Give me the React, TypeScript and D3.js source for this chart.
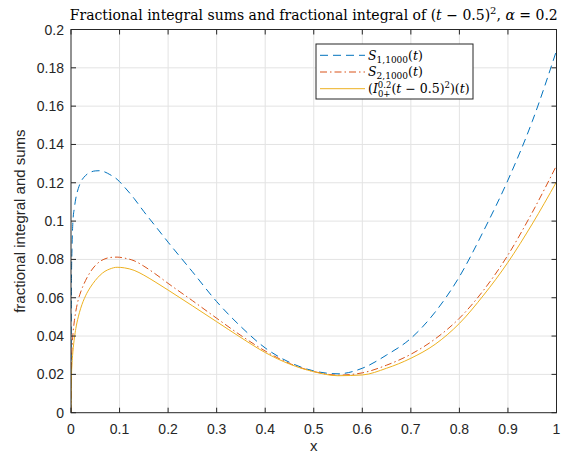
import * as d3 from "d3";

// sample points in t, shared by the three curves
const tValues = [0, 0.001, 0.002, 0.004, 0.007, 0.01, 0.015, 0.02, 0.03, 0.04, 0.05, 0.06, 0.07, 0.08, 0.095, 0.11, 0.13, 0.15, 0.175, 0.2, 0.25, 0.3, 0.35, 0.4, 0.45, 0.5, 0.55, 0.6, 0.65, 0.7, 0.75, 0.8, 0.85, 0.9, 0.95, 1];

// S_{1,1000}(t)
const sum1 = [0, 0.07, 0.085, 0.1, 0.107, 0.112, 0.117, 0.1203, 0.1238, 0.1255, 0.1262, 0.1263, 0.1256, 0.1243, 0.1218, 0.1178, 0.1118, 0.105, 0.097, 0.089, 0.0736, 0.058, 0.0449, 0.0338, 0.0263, 0.0218, 0.0203, 0.0232, 0.0301, 0.0388, 0.0525, 0.071, 0.095, 0.1214, 0.152, 0.189];

// S_{2,1000}(t)
const sum2 = [0, 0.026, 0.033, 0.041, 0.048, 0.053, 0.059, 0.063, 0.069, 0.0735, 0.0768, 0.079, 0.0803, 0.081, 0.0812, 0.0807, 0.0793, 0.0765, 0.0722, 0.0675, 0.0585, 0.0493, 0.0403, 0.0322, 0.0257, 0.0215, 0.0196, 0.0208, 0.0248, 0.0305, 0.0385, 0.0493, 0.064, 0.0823, 0.1045, 0.129];

// (I^0.2_{0+}(t-0.5)^2)(t)
const integral = [0, 0.019, 0.025, 0.032, 0.039, 0.044, 0.05, 0.0545, 0.061, 0.0655, 0.069, 0.0718, 0.0738, 0.075, 0.0759, 0.0756, 0.0743, 0.0718, 0.068, 0.064, 0.0558, 0.0475, 0.0392, 0.0314, 0.0254, 0.0214, 0.0193, 0.0197, 0.0232, 0.0284, 0.0357, 0.0466, 0.0614, 0.0785, 0.0985, 0.1205];

const xTicks = [0, 0.1, 0.2, 0.3, 0.4, 0.5, 0.6, 0.7, 0.8, 0.9, 1];
const xTickLabels = ["0", "0.1", "0.2", "0.3", "0.4", "0.5", "0.6", "0.7", "0.8", "0.9", "1"];
const yTicks = [0, 0.02, 0.04, 0.06, 0.08, 0.1, 0.12, 0.14, 0.16, 0.18, 0.2];
const yTickLabels = ["0", "0.02", "0.04", "0.06", "0.08", "0.1", "0.12", "0.14", "0.16", "0.18", "0.2"];

const W = 566;
const H = 459;
const margin = { top: 29.5, right: 9.5, bottom: 46.3, left: 71 };
const axisColor = "#262626";
const sans = "'Liberation Sans', Arial, Helvetica, sans-serif";
const serif = "'DejaVu Serif', 'Liberation Serif', serif";

export default function App() {
  const x = d3.scaleLinear().domain([0, 1]).range([margin.left, W - margin.right]);
  const y = d3.scaleLinear().domain([0, 0.2]).range([H - margin.bottom, margin.top]);

  const line = (vals: number[]) =>
    d3.line<number>()
      .x((_, i) => x(tValues[i]))
      .y((d) => y(d))
      .curve(d3.curveMonotoneX)(vals) || "";

  const x0 = x(0), x1 = x(1), y0 = y(0), y1 = y(0.2);
  const tick = 5;

  const legX = 316, legY = 44;

  return (
    <svg width={W} height={H} style={{ position: "absolute", left: 0, top: 0, background: "#fff" }}>
      <defs>
        <clipPath id="plot">
          <rect x={x0} y={y1} width={x1 - x0} height={y0 - y1} />
        </clipPath>
      </defs>
      <rect x={x0} y={y1} width={x1 - x0} height={y0 - y1} fill="#fff" />
      {/* grid */}
      <g stroke="#e3e3e3" strokeWidth={1}>
        {xTicks.slice(1, -1).map((t) => (
          <line key={"gx" + t} x1={x(t)} x2={x(t)} y1={y1} y2={y0} />
        ))}
        {yTicks.slice(1, -1).map((t) => (
          <line key={"gy" + t} x1={x0} x2={x1} y1={y(t)} y2={y(t)} />
        ))}
      </g>

      {/* curves */}
      <g clipPath="url(#plot)" fill="none" strokeWidth={1}>
        <path d={line(sum1)} stroke="#0072BD" strokeDasharray="8,5" />
        <path d={line(sum2)} stroke="#D95319" strokeDasharray="7,3,1.5,3" />
        <path d={line(integral)} stroke="#EDB120" />
      </g>

      {/* box and ticks */}
      <rect x={x0} y={y1} width={x1 - x0} height={y0 - y1} fill="none" stroke={axisColor} strokeWidth={1} />
      <g stroke={axisColor} strokeWidth={1}>
        {xTicks.map((t) => (
          <g key={"tx" + t}>
            <line x1={x(t)} x2={x(t)} y1={y0} y2={y0 - tick} />
            <line x1={x(t)} x2={x(t)} y1={y1} y2={y1 + tick} />
          </g>
        ))}
        {yTicks.map((t) => (
          <g key={"ty" + t}>
            <line x1={x0} x2={x0 + tick} y1={y(t)} y2={y(t)} />
            <line x1={x1} x2={x1 - tick} y1={y(t)} y2={y(t)} />
          </g>
        ))}
      </g>

      {/* tick labels */}
      <g fontFamily={sans} fontSize={14} fill={axisColor}>
        {xTicks.map((t, i) => (
          <text key={"lx" + t} x={x(t)} y={y0 + 21} textAnchor="middle">{xTickLabels[i]}</text>
        ))}
        {yTicks.map((t, i) => (
          <text key={"ly" + t} x={x0 - 7} y={y(t) + 5} textAnchor="end">{yTickLabels[i]}</text>
        ))}
      </g>

      {/* axis labels */}
      <text x={(x0 + x1) / 2} y={y0 + 38} textAnchor="middle" fontFamily={sans} fontSize={15} fill={axisColor}>x</text>
      <text transform={`translate(25, ${(y0 + y1) / 2}) rotate(-90)`} textAnchor="middle" fontFamily={sans} fontSize={15} fill={axisColor}>
        fractional integral and sums
      </text>

      {/* title */}
      <text x={(x0 + x1) / 2} y={20} textAnchor="middle" fontFamily={serif} fontSize={14} fill="#000">
        Fractional integral sums and fractional integral of (<tspan fontStyle="italic">t</tspan> − 0.5)
        <tspan fontSize={10} dy={-6}>2</tspan>
        <tspan dy={6}>, </tspan>
        <tspan fontStyle="italic">α</tspan> = 0.2
      </text>

      {/* legend */}
      <g>
        <rect x={legX} y={legY} width={157} height={55} fill="#fff" stroke={axisColor} strokeWidth={1} />
        <line x1={legX + 4} x2={legX + 49} y1={legY + 11.3} y2={legY + 11.3} stroke="#0072BD" strokeDasharray="8,5" />
        <line x1={legX + 4} x2={legX + 49} y1={legY + 28} y2={legY + 28} stroke="#D95319" strokeDasharray="7,3,1.5,3" />
        <line x1={legX + 4} x2={legX + 49} y1={legY + 44.7} y2={legY + 44.7} stroke="#EDB120" />
        <g fontFamily={serif} fontSize={12.5} fill="#000">
          <text x={legX + 52} y={legY + 15.5}>
            <tspan fontStyle="italic">S</tspan>
            <tspan fontSize={9} dy={3}>1,1000</tspan>
            <tspan dy={-3}>(</tspan>
            <tspan fontStyle="italic">t</tspan>)
          </text>
          <text x={legX + 52} y={legY + 32}>
            <tspan fontStyle="italic">S</tspan>
            <tspan fontSize={9} dy={3}>2,1000</tspan>
            <tspan dy={-3}>(</tspan>
            <tspan fontStyle="italic">t</tspan>)
          </text>
          <text x={legX + 52} y={legY + 49}>
            (<tspan fontStyle="italic">I</tspan>
            <tspan fontSize={8.5} dy={-5.5}>0.2</tspan>
            <tspan fontSize={8.5} dx={-13.5} dy={9}>0+</tspan>
            <tspan dx={1} dy={-3.5}>(</tspan>
            <tspan fontStyle="italic">t</tspan> − 0.5)
            <tspan fontSize={8.5} dy={-5.5}>2</tspan>
            <tspan dy={5.5}>)(</tspan>
            <tspan fontStyle="italic">t</tspan>)
          </text>
        </g>
      </g>
    </svg>
  );
}
